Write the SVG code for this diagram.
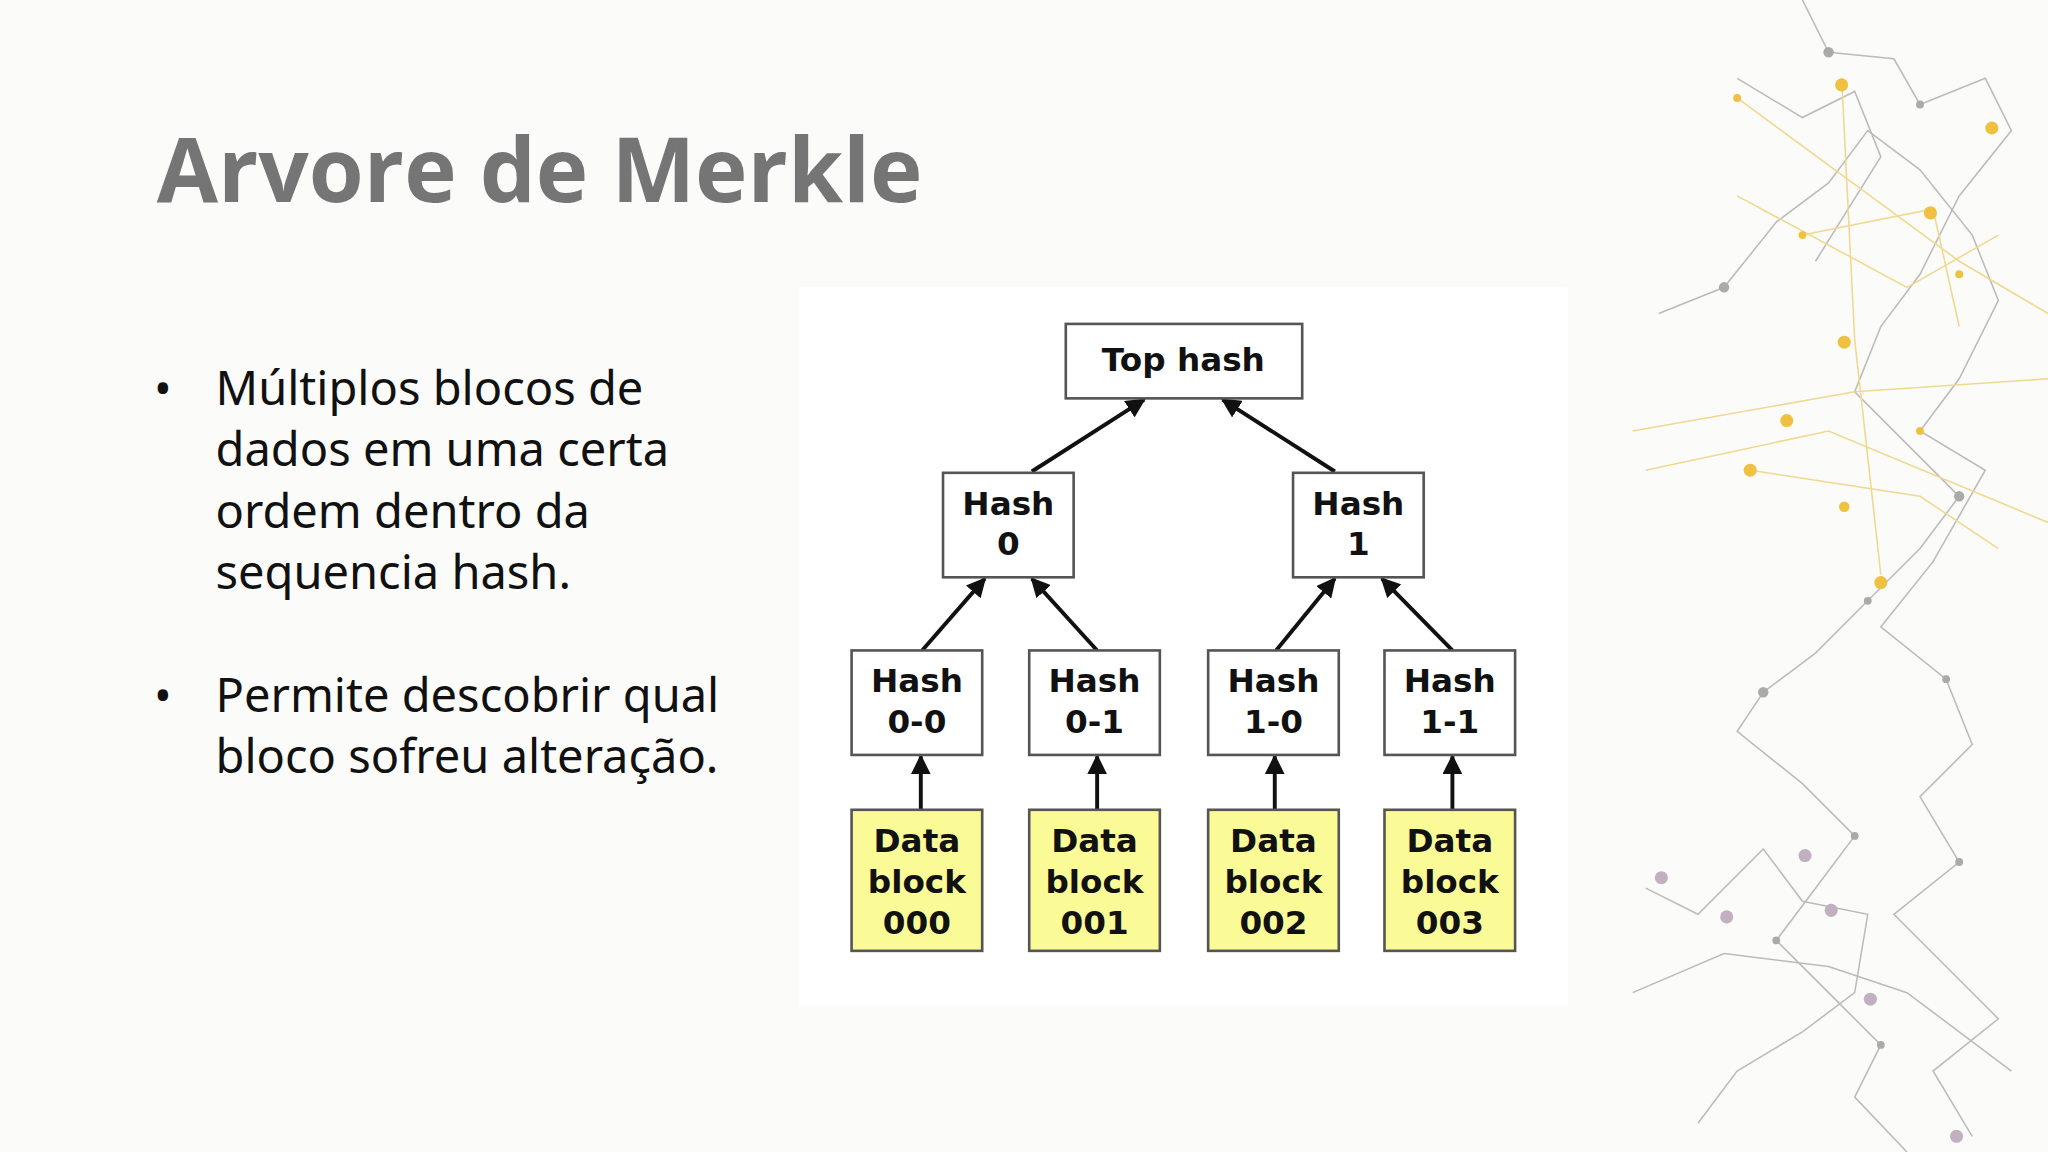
<svg xmlns="http://www.w3.org/2000/svg" width="2048" height="1152" viewBox="0 0 2048 1152">
<defs>
<style>
.b{fill:#fff;stroke:#555;stroke-width:2}
.d{fill:#fafa96;stroke:#555;stroke-width:2}
.t{font-family:"DejaVu Sans",sans-serif;font-weight:bold;font-size:25px;fill:#111;text-anchor:middle}
.c{stroke:#111;stroke-width:3;fill:none;marker-end:url(#a)}
.body{font-family:"Noto Sans","Open Sans",sans-serif;font-size:36px;fill:#111}
.n{stroke:#bbb;stroke-width:1.2;fill:none}
.y{stroke:#f0d890;stroke-width:1.2;fill:none}
</style>
<marker id="a" viewBox="0 0 10 10" refX="9" refY="5" markerWidth="5" markerHeight="5" orient="auto"><path d="M0,0L10,5L0,10z" fill="#111"/></marker>
</defs>
<rect width="2048" height="1152" fill="#fbfcfa"/>
<g transform="scale(1.30612)">
<g id="deco">
<path class="n" d="M1380,0L1400,40L1450,45L1470,80L1520,60L1540,100L1500,150L1470,210L1440,250L1420,300L1460,340L1500,380L1470,420L1430,460L1390,500L1350,530L1330,560L1380,600L1420,640L1390,680L1360,720L1400,760L1440,800L1420,840L1460,882"/>
<path class="n" d="M1270,240L1320,220L1360,170L1400,140L1430,100L1470,130L1510,180L1530,230L1500,290L1470,330L1520,360L1480,430L1440,480L1490,520L1510,570L1470,610L1500,660L1450,700L1490,740L1530,780L1480,820L1510,870"/>
<path class="n" d="M1260,680L1300,700L1350,650L1380,690L1430,700L1420,760L1380,790L1330,820L1300,860M1250,760L1320,730L1400,740L1460,760L1540,820M1330,60L1380,90L1420,70L1440,120L1390,200"/>
<path class="y" d="M1330,75L1500,200L1568,240M1250,330L1420,300L1568,290M1260,360L1400,330L1568,400M1330,150L1460,220L1530,180M1410,60L1420,260L1440,440M1340,360L1470,380L1530,420M1380,180L1480,160L1500,250"/>
<g fill="#f0c040"><circle cx="1410" cy="65" r="5"/><circle cx="1525" cy="98" r="5"/><circle cx="1478" cy="163" r="5"/><circle cx="1412" cy="262" r="5"/><circle cx="1368" cy="322" r="5"/><circle cx="1340" cy="360" r="5"/><circle cx="1412" cy="388" r="4"/><circle cx="1440" cy="446" r="5"/><circle cx="1500" cy="210" r="3"/><circle cx="1330" cy="75" r="3"/><circle cx="1380" cy="180" r="3"/><circle cx="1470" cy="330" r="3"/></g>
<g fill="#aaa"><circle cx="1400" cy="40" r="4"/><circle cx="1470" cy="80" r="3"/><circle cx="1320" cy="220" r="4"/><circle cx="1500" cy="380" r="4"/><circle cx="1430" cy="460" r="3"/><circle cx="1350" cy="530" r="4"/><circle cx="1420" cy="640" r="3"/><circle cx="1360" cy="720" r="3"/><circle cx="1440" cy="800" r="3"/><circle cx="1490" cy="520" r="3"/><circle cx="1500" cy="660" r="3"/></g>
<g fill="#c0b0c0"><circle cx="1382" cy="655" r="5"/><circle cx="1322" cy="702" r="5"/><circle cx="1402" cy="697" r="5"/><circle cx="1432" cy="765" r="5"/><circle cx="1272" cy="672" r="5"/><circle cx="1498" cy="870" r="5"/></g>
</g>
<text x="120" y="155" font-family="'Open Sans','Noto Sans',sans-serif" font-weight="bold" font-size="68" fill="#757575">Arvore de Merkle</text>
<g id="bullets" class="body">
<text x="118" y="310">•</text>
<text x="165" y="310">Múltiplos blocos de</text>
<text x="165" y="357">dados em uma certa</text>
<text x="165" y="404">ordem dentro da</text>
<text x="165" y="451">sequencia hash.</text>
<text x="118" y="545">•</text>
<text x="165" y="545">Permite descobrir qual</text>
<text x="165" y="592">bloco sofreu alteração.</text>
</g>
<rect x="612" y="220" width="588" height="550" fill="#fff"/>
<g id="connectors">
<line class="c" x1="790" y1="361" x2="876" y2="306"/>
<line class="c" x1="1022" y1="361" x2="936" y2="306"/>
<line class="c" x1="706" y1="498" x2="754" y2="443"/>
<line class="c" x1="840" y1="498" x2="790" y2="443"/>
<line class="c" x1="977" y1="498" x2="1022" y2="443"/>
<line class="c" x1="1112" y1="498" x2="1058" y2="443"/>
<line class="c" x1="705" y1="620" x2="705" y2="579"/>
<line class="c" x1="840" y1="620" x2="840" y2="579"/>
<line class="c" x1="976" y1="620" x2="976" y2="579"/>
<line class="c" x1="1112" y1="620" x2="1112" y2="579"/>
</g>
<g id="top"><rect class="b" x="816" y="248" width="181" height="57"/><text class="t" x="906" y="284" font-size="28">Top hash</text></g>
<g id="h0"><rect class="b" x="722" y="362" width="100" height="80"/><text class="t" x="772" y="394">Hash</text><text class="t" x="772" y="425">0</text></g>
<g id="h1"><rect class="b" x="990" y="362" width="100" height="80"/><text class="t" x="1040" y="394">Hash</text><text class="t" x="1040" y="425">1</text></g>
<g id="h00"><rect class="b" x="652" y="498" width="100" height="80"/><text class="t" x="702" y="530">Hash</text><text class="t" x="702" y="561">0-0</text></g>
<g id="h01"><rect class="b" x="788" y="498" width="100" height="80"/><text class="t" x="838" y="530">Hash</text><text class="t" x="838" y="561">0-1</text></g>
<g id="h10"><rect class="b" x="925" y="498" width="100" height="80"/><text class="t" x="975" y="530">Hash</text><text class="t" x="975" y="561">1-0</text></g>
<g id="h11"><rect class="b" x="1060" y="498" width="100" height="80"/><text class="t" x="1110" y="530">Hash</text><text class="t" x="1110" y="561">1-1</text></g>
<g id="d0"><rect class="d" x="652" y="620" width="100" height="108"/><text class="t" x="702" y="652">Data</text><text class="t" x="702" y="684">block</text><text class="t" x="702" y="715">000</text></g>
<g id="d1"><rect class="d" x="788" y="620" width="100" height="108"/><text class="t" x="838" y="652">Data</text><text class="t" x="838" y="684">block</text><text class="t" x="838" y="715">001</text></g>
<g id="d2"><rect class="d" x="925" y="620" width="100" height="108"/><text class="t" x="975" y="652">Data</text><text class="t" x="975" y="684">block</text><text class="t" x="975" y="715">002</text></g>
<g id="d3"><rect class="d" x="1060" y="620" width="100" height="108"/><text class="t" x="1110" y="652">Data</text><text class="t" x="1110" y="684">block</text><text class="t" x="1110" y="715">003</text></g>
</g>
</svg>
